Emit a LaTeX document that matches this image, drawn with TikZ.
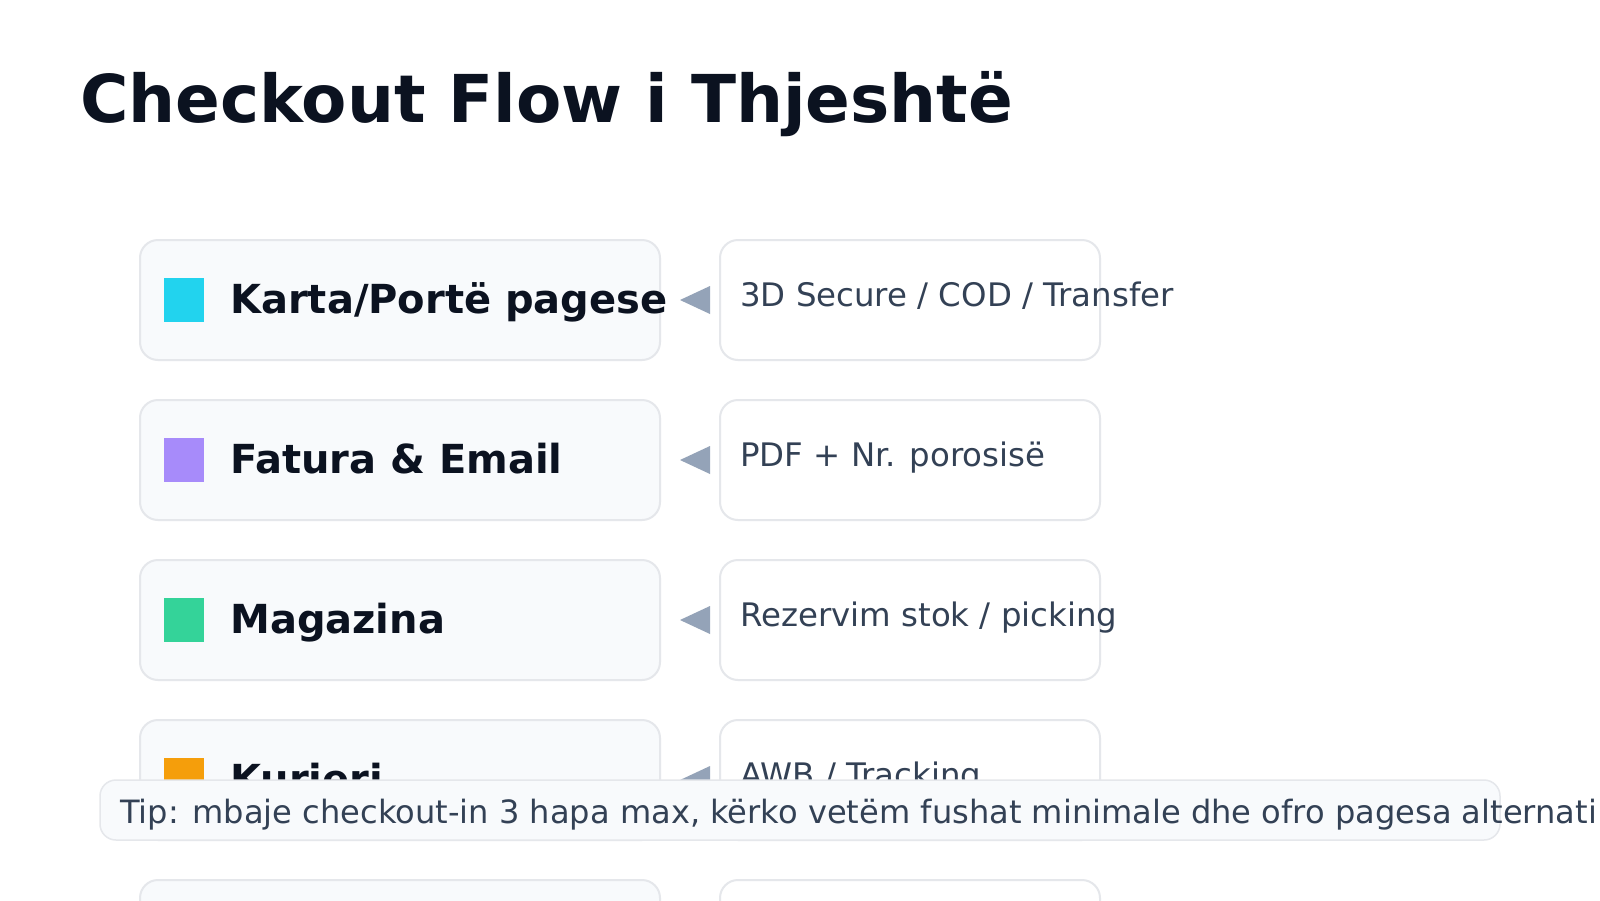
\documentclass[tikz,border=0pt]{standalone}
\usepackage{fontspec}
\setmainfont{DejaVu Sans}
\usetikzlibrary{positioning}
\definecolor{titlec}{HTML}{0B1220}
\definecolor{notec}{HTML}{334155}
\definecolor{boxfill}{HTML}{F8FAFC}
\definecolor{boxline}{HTML}{E5E7EB}
\definecolor{arrowc}{HTML}{94A3B8}
\definecolor{cyanc}{HTML}{22D3EE}
\definecolor{purplec}{HTML}{A78BFA}
\definecolor{greenc}{HTML}{34D399}
\definecolor{orangec}{HTML}{F59E0B}
\tikzset{
  stepbox/.style={draw=boxline, line width=2pt, fill=boxfill, rounded corners=18pt,
    minimum width=520pt, minimum height=120pt, inner sep=0pt, outer sep=0pt, anchor=north west},
  notebox/.style={stepbox, fill=white, minimum width=380pt},
  swatch/.style={minimum width=40pt, minimum height=44pt, inner sep=0pt, anchor=west},
  steplabel/.style={font=\bfseries\fontsize{40}{44}\selectfont, text=titlec, anchor=base west, inner sep=0pt},
  notelabel/.style={font=\fontsize{32.4}{36}\selectfont, text=notec, anchor=base west, inner sep=0pt}
}
\begin{document}
\begin{tikzpicture}[x=1pt, y=-1pt]
    \clip (0,0) rectangle (1600,900);
    \fill[white] (0,0) rectangle (1600,900);

    % Title:
    \node[font=\bfseries\fontsize{66}{70}\selectfont, text=titlec, anchor=base west, inner sep=0pt]
        (title) at (80,122) {Checkout Flow i Thjeshtë};

    % steps
    \node[stepbox] (s1) at (140,240) {};
    \node[stepbox, below=40pt of s1] (s2) {};
    \node[stepbox, below=40pt of s2] (s3) {};
    \node[stepbox, below=40pt of s3] (s4) {};
    \node[stepbox, below=40pt of s4] (s5) {};

    % notes
    \node[notebox, right=60pt of s1] (n1) {};
    \node[notebox, right=60pt of s2] (n2) {};
    \node[notebox, right=60pt of s3] (n3) {};
    \node[notebox, right=60pt of s4] (n4) {};
    \node[notebox, right=60pt of s5] (n5) {};

    % swatches and labels
    \node[swatch, fill=cyanc] (q1) at ([xshift=24pt]s1.west) {};
    \node[swatch, fill=purplec] (q2) at ([xshift=24pt]s2.west) {};
    \node[swatch, fill=greenc] (q3) at ([xshift=24pt]s3.west) {};
    \node[swatch, fill=orangec] (q4) at ([xshift=24pt]s4.west) {};
    \node[steplabel] (l1) at ([xshift=90pt, yshift=-13pt]s1.west) {Karta/Portë pagese};
    \node[steplabel] (l2) at ([xshift=90pt, yshift=-13pt]s2.west) {Fatura \& Email};
    \node[steplabel] (l3) at ([xshift=90pt, yshift=-13pt]s3.west) {Magazina};
    \node[steplabel] (l4) at ([xshift=90pt, yshift=-13pt]s4.west) {Kurieri};

    \node[notelabel] (t1) at ([xshift=20pt, yshift=-6pt]n1.west) {3D Secure / COD / Transfer};
    \node[notelabel] (t2) at ([xshift=20pt, yshift=-6pt]n2.west) {PDF + Nr. porosisë};
    \node[notelabel] (t3) at ([xshift=20pt, yshift=-6pt]n3.west) {Rezervim stok / picking};
    \node[notelabel] (t4) at ([xshift=20pt, yshift=-6pt]n4.west) {AWB / Tracking};

    % arrows
    \fill[arrowc] ([xshift=-10pt, yshift=14pt]n1.west) -- ([xshift=-10pt, yshift=-14pt]n1.west) -- ([xshift=20pt]s1.east) -- cycle;
    \fill[arrowc] ([xshift=-10pt, yshift=14pt]n2.west) -- ([xshift=-10pt, yshift=-14pt]n2.west) -- ([xshift=20pt]s2.east) -- cycle;
    \fill[arrowc] ([xshift=-10pt, yshift=14pt]n3.west) -- ([xshift=-10pt, yshift=-14pt]n3.west) -- ([xshift=20pt]s3.east) -- cycle;
    \fill[arrowc] ([xshift=-10pt, yshift=14pt]n4.west) -- ([xshift=-10pt, yshift=-14pt]n4.west) -- ([xshift=20pt]s4.east) -- cycle;

    % tip
    \node[stepbox, line width=1.5pt, rounded corners=16pt, minimum width=1400pt, minimum height=60pt] (tip) at (100,780) {};
    \node[notelabel, font=\fontsize{32.1}{36}\selectfont] (tiptext) at ([xshift=20pt, yshift=-13pt]tip.west)
        {Tip: mbaje checkout-in 3 hapa max, kërko vetëm fushat minimale dhe ofro pagesa alternati};
\end{tikzpicture}
\end{document}
